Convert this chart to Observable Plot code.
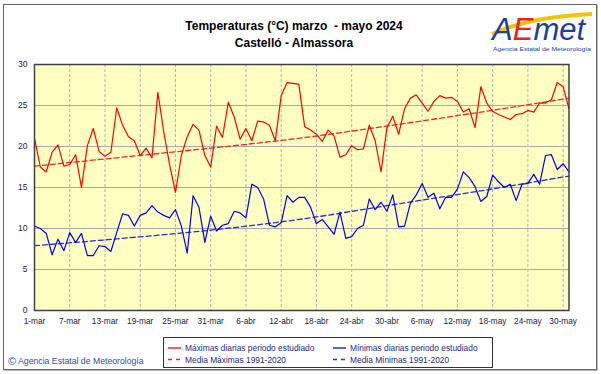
<!DOCTYPE html>
<html><head><meta charset="utf-8">
<script src="https://cdn.jsdelivr.net/npm/d3@7"></script>
<script src="https://cdn.jsdelivr.net/npm/@observablehq/plot@0.6"></script>
<style>
body{margin:0;background:#fff;}
#wrap{position:relative;width:601px;height:374px;font-family:"Liberation Sans",Arial,sans-serif;overflow:hidden;background:#fff}
#frame{position:absolute;left:3px;top:4px;width:594px;height:366px;border:1px solid #666;box-sizing:border-box;box-shadow:1px 1px 0 #bbb}
#chart{position:absolute;left:0;top:0}
#title{position:absolute;left:0;top:18px;width:588px;text-align:center;font-weight:bold;font-size:12px;line-height:17px;color:#000}
#logo{position:absolute;left:488px;top:4px}
#legend{position:absolute;left:163px;top:337px}
#copy{position:absolute;left:8px;top:355px;font-size:8.7px;color:#2b4ea3;white-space:nowrap}
#copy span{font-size:11px;vertical-align:-1px}
</style>
</head><body>
<div id="wrap">
  <div id="frame"></div>
  <div id="chart"></div>
  <div id="title">Temperaturas (°C) marzo&nbsp; - mayo 2024<br>Castelló - Almassora</div>
  <svg id="logo" width="108" height="50">
    <path d="M4,30 C30,18 60,12 104,10" stroke="#f5c400" stroke-width="4" fill="none"/>
    <text x="4" y="36" font-family="Liberation Sans, Arial" font-style="italic" font-size="31"><tspan fill="#1d3f9a">A</tspan><tspan fill="#e4261c">E</tspan><tspan fill="#1d3f9a">met</tspan></text>
    <text x="5" y="47" font-family="Liberation Sans, Arial" font-size="6" fill="#1d3f9a" textLength="98" lengthAdjust="spacingAndGlyphs">Agencia Estatal de Meteorología</text>
  </svg>
  <svg id="legend" width="331" height="32">
    <rect x="0.5" y="0.5" width="329" height="30" fill="#fff" stroke="#333"/>
    <line x1="5" x2="18" y1="11" y2="11" stroke="#ff0000" stroke-width="1.3"/>
    <text x="22" y="14" font-size="8.4" fill="#1f2a80" font-family="Liberation Sans, Arial">Máximas diarias periodo estudiado</text>
    <line x1="5" x2="18" y1="22.5" y2="22.5" stroke="#ff2020" stroke-width="1.3" stroke-dasharray="4,4"/>
    <text x="22" y="25.5" font-size="8.4" fill="#1f2a80" font-family="Liberation Sans, Arial">Media Máximas 1991-2020</text>
    <line x1="170" x2="183" y1="11" y2="11" stroke="#0000ff" stroke-width="1.3"/>
    <text x="187" y="14" font-size="8.4" fill="#1f2a80" font-family="Liberation Sans, Arial">Mínimas diarias periodo estudiado</text>
    <line x1="170" x2="183" y1="22.5" y2="22.5" stroke="#2a2ae0" stroke-width="1.3" stroke-dasharray="4,4"/>
    <text x="187" y="25.5" font-size="8.4" fill="#1f2a80" font-family="Liberation Sans, Arial">Media Mínimas 1991-2020</text>
  </svg>
  <div id="copy"><span>©</span> Agencia Estatal de Meteorología</div>
</div>
<script>
// Daily maximum temperatures, 1 March - 31 May 2024
const tmax = [21.0,17.5,16.9,19.3,20.2,17.6,17.8,19.0,15.0,20.1,22.2,19.4,18.8,19.3,24.7,22.6,21.2,20.7,18.9,19.8,
  18.6,26.6,21.8,17.8,14.4,18.9,21.2,22.7,22.0,18.9,17.5,22.5,21.1,25.4,23.6,20.9,22.2,20.7,23.1,23.0,
  22.6,20.7,26.2,27.8,27.7,27.6,22.4,22.0,21.5,20.6,22.0,21.3,18.7,19.0,20.1,19.6,19.7,22.6,20.7,16.9,
  22.3,23.7,21.5,24.6,25.9,26.3,25.3,24.3,25.5,26.2,25.9,26.0,25.5,24.2,24.6,22.3,27.3,25.3,24.3,23.9,
  23.6,23.3,23.9,24.0,24.4,24.2,25.3,25.3,25.7,27.8,27.3,24.6];
// Daily minimum temperatures
const tmin = [10.3,10.0,9.4,6.8,8.7,7.3,9.5,8.3,9.4,6.7,6.7,7.9,7.8,7.2,9.5,11.8,11.6,10.3,11.6,11.9,
  12.8,12.0,11.6,11.3,12.3,10.3,7.0,14.0,12.6,8.3,11.5,9.7,10.4,10.6,12.1,11.9,11.3,15.4,15.0,13.6,
  10.4,10.2,10.7,14.0,13.2,13.8,13.8,12.6,10.6,11.1,10.2,9.3,12.0,8.8,9.0,10.0,10.4,13.6,12.3,13.2,
  12.1,14.1,10.2,10.3,13.1,14.1,15.5,13.8,14.3,12.4,13.8,13.8,14.8,16.9,16.2,15.1,13.3,13.9,16.5,15.7,
  15.0,15.4,13.4,15.4,15.5,16.6,15.4,18.9,19.0,17.2,17.9,16.9];
// Reference climatology 1991-2020 (read at a few days)
const normDays = [0,15,30,45,61,76,91];
const normMax = [17.6,18.7,19.8,21.0,22.6,24.2,25.9];
const normMin = [7.9,8.8,9.8,11.1,12.9,14.6,16.4];
// X tick labels (every 6 days from day 0)
const tickLabels = ["1-mar","7-mar","13-mar","19-mar","25-mar","31-mar","6-abr","12-abr","18-abr","24-abr","30-abr","6-may","12-may","18-may","24-may","30-may"];
const yTicks = [0,5,10,15,20,25,30];

const days = tmax.map((_, i) => i);
const tickDays = tickLabels.map((_, i) => i * 6);
const maxData = days.map(i => ({d: i, t: tmax[i]}));
const minData = days.map(i => ({d: i, t: tmin[i]}));
const nMax = normDays.map((d, i) => ({d, t: normMax[i]}));
const nMin = normDays.map((d, i) => ({d, t: normMin[i]}));

const chart = Plot.plot({
  width: 601, height: 374,
  marginLeft: 34, marginRight: 32.5, marginTop: 64, marginBottom: 64,
  style: {background: "transparent", fontSize: "8.5px", fontFamily: "Liberation Sans, Arial, sans-serif", color: "#1a1a44"},
  x: {domain: [0, 91]},
  y: {domain: [0, 30]},
  marks: [
    Plot.frame({fill: "#ffffc2", stroke: null}),
    Plot.ruleY([5,10,15,20,25], {stroke: "#a9a9a9", strokeWidth: 1}),
    Plot.ruleX(tickDays.filter(d => d > 0), {stroke: "#b0b0b0", strokeWidth: 1, strokeDasharray: "3,2"}),
    Plot.line(nMax, {x: "d", y: "t", stroke: "#ff2020", strokeWidth: 1.3, strokeDasharray: "5,3", curve: "monotone-x"}),
    Plot.line(nMin, {x: "d", y: "t", stroke: "#2a2ae0", strokeWidth: 1.3, strokeDasharray: "5,3", curve: "monotone-x"}),
    Plot.line(maxData, {x: "d", y: "t", stroke: "#ff0000", strokeWidth: 1.2}),
    Plot.line(minData, {x: "d", y: "t", stroke: "#0000ff", strokeWidth: 1.2}),
    Plot.frame({stroke: "#404040", strokeWidth: 1.5}),
    Plot.axisY({ticks: yTicks, tickSize: 0, tickPadding: 7, label: null, fontSize: 8.5}),
    Plot.axisX({ticks: tickDays, tickSize: 0, tickPadding: 8, label: null, fontSize: 8.3,
      tickFormat: d => tickLabels[d / 6]})
  ]
});
document.getElementById("chart").appendChild(chart);
</script>
</body></html>
